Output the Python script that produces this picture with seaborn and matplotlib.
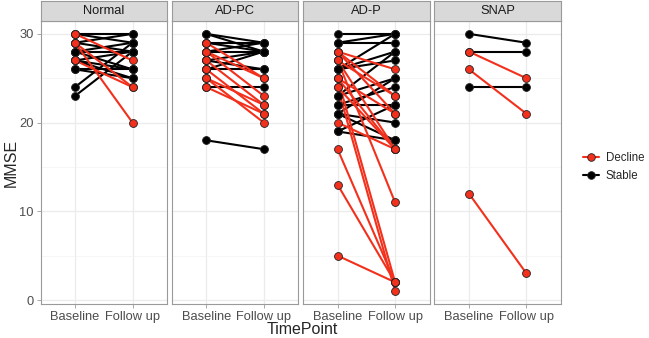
import numpy as np
import pandas as pd
import matplotlib
matplotlib.use("Agg")
import matplotlib.pyplot as plt
from matplotlib.lines import Line2D
import seaborn as sns

groups = ["Normal", "AD-PC", "AD-P", "SNAP"]
timepoints = ["Baseline", "Follow up"]

# MMSE pairs per subject (baseline -> follow up)
normal_base = [30, 30, 29, 29, 28, 28, 28, 27, 27, 27, 26, 26, 24, 23, 30, 29, 29, 27]
normal_follow = [29, 30, 30, 28, 28, 26, 29, 28, 26, 25, 26, 25, 29, 28, 27, 24, 20, 24]
normal_status = ["Stable"] * 14 + ["Decline"] * 4

adpc_base = [30, 30, 29, 29, 28, 28, 27, 27, 26, 26, 24, 18, 29, 28, 28, 27, 26, 25, 24, 25]
adpc_follow = [29, 28, 29, 28, 28, 29, 28, 26, 28, 26, 24, 17, 25, 23, 25, 22, 21, 20, 21, 22]
adpc_status = ["Stable"] * 12 + ["Decline"] * 8

adp_base = [30, 29, 29, 26, 26, 26, 23, 23, 22, 22, 21, 21, 19, 19, 21,
            28, 28, 27, 27, 25, 25, 24, 24, 20, 17, 13, 5, 28, 27, 25]
adp_follow = [30, 30, 29, 30, 28, 27, 28, 25, 24, 22, 25, 20, 22, 18, 18,
              26, 21, 23, 11, 17, 2, 17, 1, 17, 2, 2, 2, 23, 17, 21]
adp_status = ["Stable"] * 15 + ["Decline"] * 15

snap_base = [30, 28, 24, 28, 26, 12]
snap_follow = [29, 28, 24, 25, 21, 3]
snap_status = ["Stable"] * 3 + ["Decline"] * 3

rows = []
for g, base, follow, status in [
    ("Normal", normal_base, normal_follow, normal_status),
    ("AD-PC", adpc_base, adpc_follow, adpc_status),
    ("AD-P", adp_base, adp_follow, adp_status),
    ("SNAP", snap_base, snap_follow, snap_status),
]:
    for i, (b, f, s) in enumerate(zip(base, follow, status)):
        rows.append({"group": g, "id": f"{g}-{i}", "TimePoint": timepoints[0], "MMSE": b, "status": s})
        rows.append({"group": g, "id": f"{g}-{i}", "TimePoint": timepoints[1], "MMSE": f, "status": s})
df = pd.DataFrame(rows)

pal = {"Decline": "#F2301C", "Stable": "#000000"}

sns.set_theme(style="white")
plt.rcParams["font.family"] = ["Liberation Sans", "DejaVu Sans"]

W, H = 649, 338
fig = plt.figure(figsize=(W / 100, H / 100), dpi=100)
border = "#9A9A9A"
tick_col = "#4D4D4D"

for k, g in enumerate(groups):
    left = 40.5 + k * 131.3
    ax = fig.add_axes([left / W, 34 / H, 126.5 / W, 283 / H])
    sub = df[df.group == g]
    for st in ["Stable", "Decline"]:
        s2 = sub[sub.status == st]
        sns.lineplot(data=s2, x="TimePoint", y="MMSE", units="id", estimator=None,
                     color=pal[st], lw=1.5, sort=False, ax=ax, zorder=2)
    for st in ["Stable", "Decline"]:
        s2 = sub[sub.status == st]
        sns.scatterplot(data=s2, x="TimePoint", y="MMSE", color=pal[st],
                        edgecolor="#222222", linewidth=0.6, s=32, ax=ax, zorder=3)
    ax.set_xlim(-0.6, 1.6)
    ax.set_ylim(-0.45, 31.45)
    ax.set_xticks([0, 1])
    ax.set_xticklabels(timepoints)
    ax.set_yticks([0, 10, 20, 30])
    ax.set_yticks([5, 15, 25], minor=True)
    ax.grid(True, which="major", color="#EBEBEB", lw=0.9)
    ax.grid(True, which="minor", axis="y", color="#F3F3F3", lw=0.5)
    ax.set_axisbelow(True)
    ax.set_xlabel("")
    ax.set_ylabel("")
    for sp in ax.spines.values():
        sp.set_color(border)
        sp.set_linewidth(0.8)
    ax.tick_params(axis="both", which="major", length=3, width=0.6, color=border,
                   labelsize=9.3, labelcolor=tick_col, pad=2, bottom=True, left=(k == 0))
    ax.tick_params(axis="y", which="minor", length=0)
    if k > 0:
        ax.set_yticklabels([])

    sax = fig.add_axes([left / W, 317 / H, 126.5 / W, 20 / H])
    sax.set_facecolor("#D9D9D9")
    sax.set_xticks([])
    sax.set_yticks([])
    for sp in sax.spines.values():
        sp.set_color(border)
        sp.set_linewidth(0.8)
    sax.text(0.5, 0.48, g, ha="center", va="center", fontsize=9.3,
             color="#1A1A1A", transform=sax.transAxes)

fig.text(302 / W, 1 - 329 / H, "TimePoint", ha="center", va="center", fontsize=11.5)
fig.text(11 / W, 1 - 163 / H, "MMSE", ha="center", va="center", fontsize=11.5, rotation=90)

handles = [Line2D([0], [0], color=pal[s], lw=1.5, marker="o", ms=5.5,
                  markerfacecolor=pal[s], markeredgecolor="#222222", markeredgewidth=0.6)
           for s in ["Decline", "Stable"]]
fig.legend(handles, ["Decline", "Stable"], loc="center left",
           bbox_to_anchor=(578 / W, 1 - 167 / H), frameon=False, fontsize=8.3,
           handlelength=1.4, handletextpad=0.6, labelspacing=0.45, borderaxespad=0)

fig.savefig("out.png", dpi=100)
